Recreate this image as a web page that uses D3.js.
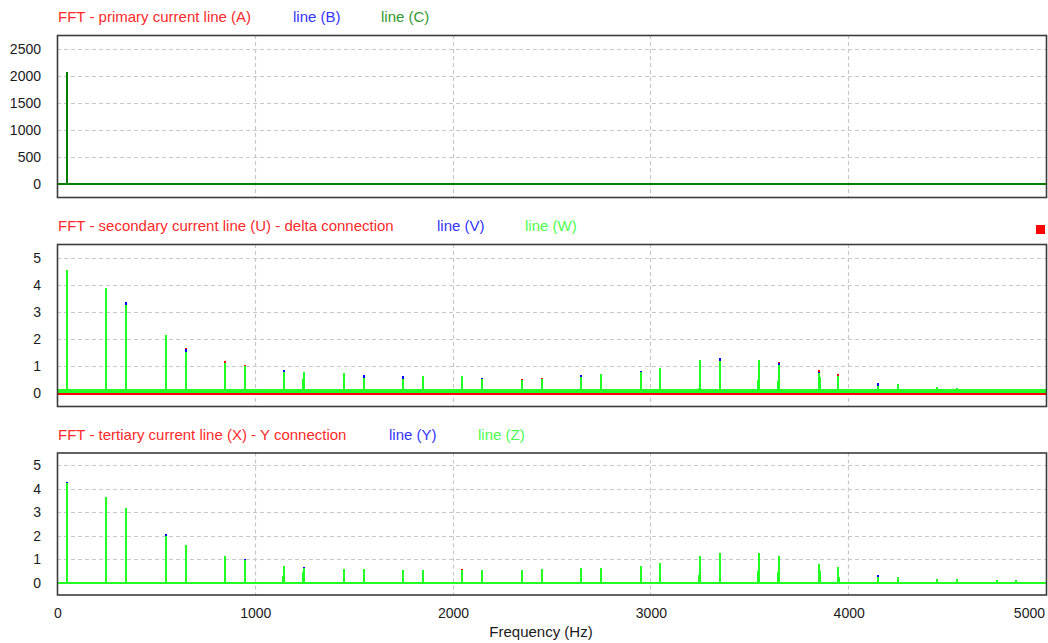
<!DOCTYPE html>
<html>
<head>
<meta charset="utf-8">
<script src="https://cdn.jsdelivr.net/npm/d3@7"></script>
<style>
  html, body { margin: 0; padding: 0; background: #fff; }
  svg { display: block; font-family: "Liberation Sans", Arial, sans-serif; }
</style>
</head>
<body>
<svg id="chart" width="1048" height="643"></svg>
<script>
// ---- spectrum data (amplitude per frequency bin, Hz) ----
const xTicks = [0, 1000, 2000, 3000, 4000, 5000];

// primary current
const primFreq = [2, 50];
const primA = [110, 2060];
const primB = [40, 2060];
const primC = [0, 2068];
const primTicks = [0, 500, 1000, 1500, 2000, 2500];

// secondary current (delta)
const secFreq = [50, 250, 350, 550, 650, 850, 950, 1150, 1245, 1250, 1450, 1550, 1750, 1850, 2050, 2150, 2350, 2450, 2650, 2750, 2950, 3050, 3245, 3250, 3350, 3545, 3550, 3645, 3650, 3850, 3855, 3950, 4150, 4250, 4450, 4550, 4750, 4850];
const secU = [4.40, 3.80, 3.20, 2.05, 1.66, 1.19, 1.06, 0.75, 0.40, 0.70, 0.70, 0.50, 0.50, 0.55, 0.55, 0.50, 0.55, 0.58, 0.55, 0.65, 0.70, 0.85, 0.15, 1.10, 1.10, 0.40, 1.15, 0.40, 1.16, 0.85, 0.50, 0.70, 0.25, 0.30, 0.20, 0.15, 0.12, 0.12];
const secV = [4.45, 3.80, 3.35, 2.05, 1.62, 1.05, 0.95, 0.88, 0.40, 0.75, 0.70, 0.68, 0.63, 0.55, 0.55, 0.58, 0.45, 0.50, 0.68, 0.65, 0.84, 0.85, 0.15, 1.15, 1.32, 0.40, 1.15, 0.40, 1.12, 0.80, 0.50, 0.62, 0.39, 0.30, 0.20, 0.15, 0.12, 0.12];
const secW = [4.54, 3.89, 3.25, 2.14, 1.52, 1.12, 1.00, 0.78, 0.53, 0.80, 0.77, 0.57, 0.53, 0.63, 0.63, 0.55, 0.51, 0.52, 0.62, 0.72, 0.78, 0.93, 0.20, 1.24, 1.18, 0.50, 1.24, 0.45, 1.06, 0.75, 0.60, 0.65, 0.28, 0.34, 0.24, 0.20, 0.16, 0.16];
const secFloor = [-0.03, 0.05, 0.08];
const secTicks = [0, 1, 2, 3, 4, 5];

// tertiary current (Y)
const terFreq = [50, 250, 350, 550, 650, 850, 950, 1145, 1150, 1245, 1250, 1450, 1550, 1750, 1850, 2050, 2150, 2350, 2450, 2650, 2750, 2950, 3050, 3245, 3250, 3350, 3545, 3550, 3645, 3650, 3850, 3855, 3950, 3955, 4150, 4250, 4450, 4550, 4750, 4850];
const terX = [4.15, 3.60, 3.10, 1.95, 1.55, 1.08, 0.93, 0.25, 0.68, 0.40, 0.60, 0.55, 0.55, 0.50, 0.50, 0.57, 0.50, 0.50, 0.55, 0.60, 0.60, 0.70, 0.80, 0.30, 1.10, 1.20, 0.45, 1.20, 0.40, 1.10, 0.75, 0.45, 0.60, 0.20, 0.22, 0.20, 0.15, 0.15, 0.10, 0.10];
const terY = [4.29, 3.60, 3.10, 2.06, 1.58, 1.10, 1.03, 0.25, 0.70, 0.40, 0.69, 0.55, 0.55, 0.50, 0.50, 0.50, 0.50, 0.50, 0.50, 0.60, 0.60, 0.70, 0.80, 0.30, 1.10, 1.20, 0.45, 1.20, 0.40, 1.10, 0.75, 0.45, 0.60, 0.20, 0.35, 0.20, 0.15, 0.15, 0.10, 0.10];
const terZ = [4.22, 3.65, 3.16, 2.00, 1.62, 1.13, 0.97, 0.28, 0.73, 0.45, 0.64, 0.59, 0.59, 0.53, 0.53, 0.53, 0.53, 0.53, 0.57, 0.63, 0.63, 0.73, 0.83, 0.33, 1.13, 1.27, 0.49, 1.26, 0.45, 1.14, 0.80, 0.49, 0.66, 0.25, 0.25, 0.25, 0.17, 0.17, 0.12, 0.12];
const terTicks = [0, 1, 2, 3, 4, 5];

const RED = "#ff0000", BLUE = "#0000ff", LIME = "#22ff22", DKGREEN = "#008000";

const panels = [
  {
    top: 35, bottom: 197, yDomain: [-241, 2759], ticks: primTicks,
    freq: primFreq, floors: [0, 0, 0], floorWidths: [2, 2, 2],
    series: [primA, primB, primC], colors: [RED, BLUE, DKGREEN],
    titles: [
      { text: "FFT - primary current line (A)", x: 58, color: "#ff2a2a" },
      { text: "line (B)", x: 293, color: "#3333ff" },
      { text: "line (C)", x: 381, color: "#2e9a2e" }
    ]
  },
  {
    top: 244, bottom: 406, yDomain: [-0.46, 5.50], ticks: secTicks,
    freq: secFreq, floors: secFloor, floorWidths: [2, 2, 4],
    series: [secU, secV, secW], colors: [RED, BLUE, LIME],
    titles: [
      { text: "FFT - secondary current line (U) - delta connection", x: 58, color: "#ff2a2a" },
      { text: "line (V)", x: 437, color: "#3333ff" },
      { text: "line (W)", x: 525, color: "#4dff4d" }
    ]
  },
  {
    top: 452.5, bottom: 594.5, yDomain: [-0.49, 5.53], ticks: terTicks,
    freq: terFreq, floors: [0, 0, 0], floorWidths: [2, 2, 2],
    series: [terX, terY, terZ], colors: [RED, BLUE, LIME],
    titles: [
      { text: "FFT - tertiary current line (X) - Y connection", x: 58, color: "#ff2a2a" },
      { text: "line (Y)", x: 389, color: "#3333ff" },
      { text: "line (Z)", x: 478, color: "#4dff4d" }
    ]
  }
];

const svg = d3.select("#chart");
const left = 57, right = 1046;
const x = d3.scaleLinear().domain([0, 5000]).range([left, right]);

panels.forEach(p => {
  const y = d3.scaleLinear().domain(p.yDomain).range([p.bottom, p.top]);
  const g = svg.append("g");

  // titles
  p.titles.forEach(t => {
    g.append("text").attr("x", t.x).attr("y", p.top - 13)
      .attr("fill", t.color).attr("font-size", 15).text(t.text);
  });

  // grid
  const grid = g.append("g").attr("stroke", "#c8c8c8").attr("stroke-width", 1.2)
    .attr("stroke-dasharray", "4,3");
  grid.selectAll("line.h").data(p.ticks.filter(v => v !== 0)).join("line")
    .attr("x1", left).attr("x2", right)
    .attr("y1", d => Math.round(y(d)) + 0.5).attr("y2", d => Math.round(y(d)) + 0.5);
  grid.selectAll("line.v").data(xTicks.filter(v => v > 0 && v < 5000)).join("line")
    .attr("x1", d => Math.round(x(d)) + 0.5).attr("x2", d => Math.round(x(d)) + 0.5)
    .attr("y1", p.top).attr("y2", p.bottom);

  // y tick labels
  g.append("g").selectAll("text").data(p.ticks).join("text")
    .attr("x", 41).attr("y", d => y(d) + 5).attr("text-anchor", "end")
    .attr("font-size", 14).attr("fill", "#1a1a1a").text(d => d);

  // spectra: red, then blue, then green on top
  const clipId = "clip" + Math.round(p.top);
  svg.append("clipPath").attr("id", clipId).append("rect")
    .attr("x", left).attr("y", p.top).attr("width", right - left).attr("height", p.bottom - p.top);
  const plot = g.append("g").attr("clip-path", `url(#${clipId})`)
    .attr("shape-rendering", "crispEdges");

  p.series.forEach((vals, si) => {
    const floor = p.floors[si];
    const y0 = Math.round(y(floor));
    const s = plot.append("g").attr("stroke", p.colors[si]).attr("fill", "none");
    s.append("line")
      .attr("x1", left).attr("x2", right)
      .attr("y1", y0).attr("y2", y0)
      .attr("stroke-width", p.floorWidths[si]);
    s.selectAll("line.spike").data(vals.map((v, i) => [p.freq[i], v])).join("line")
      .attr("class", "spike")
      .attr("x1", d => Math.round(x(d[0]))).attr("x2", d => Math.round(x(d[0])))
      .attr("y1", y0).attr("y2", d => Math.round(y(d[1])))
      .attr("stroke-width", 2);
  });

  // frame
  g.append("rect").attr("x", left + 0.5).attr("y", p.top + 0.5)
    .attr("width", right - left).attr("height", p.bottom - p.top)
    .attr("fill", "none").attr("stroke", "#3c3c3c").attr("stroke-width", 1.6);
});

// status marker
svg.append("rect").attr("x", 1036).attr("y", 225).attr("width", 9).attr("height", 9).attr("fill", "#ff0000");

// x axis labels
svg.append("g").selectAll("text").data(xTicks).join("text")
  .attr("x", d => d === 5000 ? right - 1 : x(d) + 1)
  .attr("y", 618)
  .attr("text-anchor", d => d === 5000 ? "end" : "middle")
  .attr("font-size", 14).attr("fill", "#1a1a1a").text(d => d);

svg.append("text").attr("x", 541).attr("y", 637).attr("text-anchor", "middle")
  .attr("font-size", 15).attr("fill", "#1a1a1a").text("Frequency (Hz)");
</script>
</body>
</html>
